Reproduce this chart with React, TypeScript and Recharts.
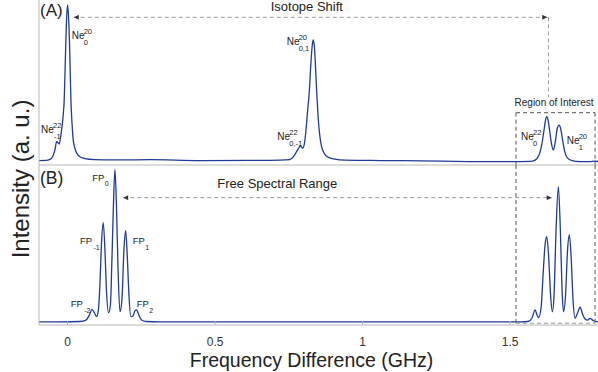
import React from 'react';
import { LineChart, Line, XAxis, YAxis, ReferenceLine } from 'recharts';

// panel (A): isotope spectrum, frequency in GHz
const FREQ_A = [
  -0.097, -0.0736, -0.060, -0.0498, -0.0431, -0.0373, -0.0329, -0.0285, -0.0227, -0.0149,
  -0.0115, -0.0068, -0.0034, 0, 0.0034, 0.0071, 0.0112, 0.0153, 0.019, 0.0264,
  0.0349, 0.0417, 0.0587, 0.0926, 0.15, 0.28, 0.45, 0.62, 0.72, 0.7538,
  0.7674, 0.7776, 0.7894, 0.7972, 0.803, 0.8081, 0.8132, 0.8193, 0.825, 0.8294,
  0.8328, 0.8369, 0.8406, 0.8444, 0.8488, 0.8538, 0.8606, 0.8691, 0.8826, 0.9064,
  0.9403, 1.06, 1.2, 1.36, 1.5, 1.5676, 1.5846, 1.5981, 1.6083, 1.6151,
  1.6202, 1.6243, 1.6287, 1.6338, 1.6399, 1.6467, 1.6535, 1.6602, 1.666, 1.6718,
  1.6779, 1.6846, 1.6931, 1.7101, 1.7372, 1.7711, 1.7847, 1.798,
];
const INTENSITY_A = [
  0.027, 0.028, 0.034, 0.055, 0.091, 0.141, 0.136, 0.127, 0.182, 0.303,
  0.394, 0.697, 0.891, 0.97, 0.891, 0.697, 0.394, 0.242, 0.152, 0.091,
  0.061, 0.05, 0.039, 0.033, 0.031, 0.032, 0.027, 0.028, 0.03, 0.033,
  0.055, 0.085, 0.115, 0.103, 0.133, 0.212, 0.321, 0.444, 0.624, 0.727,
  0.758, 0.709, 0.588, 0.442, 0.303, 0.194, 0.115, 0.073, 0.048, 0.036,
  0.03, 0.027, 0.025, 0.021, 0.02, 0.022, 0.03, 0.061, 0.133, 0.212,
  0.273, 0.293, 0.273, 0.212, 0.133, 0.091, 0.145, 0.224, 0.242, 0.218,
  0.152, 0.085, 0.045, 0.027, 0.021, 0.02, 0.024, 0.021,
];

// panel (B): Fabry-Perot reference
const FREQ_B = [
  -0.097, -0.0261, 0.0417, 0.0621, 0.0739, 0.0824, 0.0909, 0.0983, 0.1044, 0.1095,
  0.1146, 0.1207, 0.1265, 0.1316, 0.139, 0.1451, 0.1502, 0.1553, 0.1604, 0.1655,
  0.1706, 0.1774, 0.1841, 0.1909, 0.1967, 0.2021, 0.2079, 0.2146, 0.2214, 0.2282,
  0.234, 0.2401, 0.2509, 0.2655, 0.313, 0.6182, 0.9573, 1.2964, 1.5338, 1.561,
  1.5745, 1.5846, 1.5914, 1.5965, 1.605, 1.6118, 1.6185, 1.6243, 1.6304, 1.6372,
  1.6433, 1.649, 1.6558, 1.6636, 1.6704, 1.6762, 1.6812, 1.688, 1.6948, 1.7009,
  1.7066, 1.7134, 1.7202, 1.7287, 1.7372, 1.7456, 1.7541, 1.7626, 1.7711, 1.7813,
  1.798,
];
const INTENSITY_B = [
  0.019, 0.019, 0.022, 0.031, 0.063, 0.098, 0.075, 0.053, 0.094, 0.25,
  0.5, 0.639, 0.469, 0.219, 0.077, 0.125, 0.406, 0.75, 0.973, 0.75,
  0.375, 0.083, 0.156, 0.469, 0.589, 0.438, 0.188, 0.052, 0.056, 0.088,
  0.094, 0.069, 0.031, 0.022, 0.019, 0.019, 0.019, 0.019, 0.019, 0.022,
  0.044, 0.094, 0.063, 0.046, 0.106, 0.313, 0.5, 0.552, 0.438, 0.188,
  0.083, 0.188, 0.594, 0.864, 0.594, 0.219, 0.083, 0.188, 0.469, 0.563,
  0.438, 0.156, 0.042, 0.075, 0.111, 0.069, 0.038, 0.031, 0.041, 0.028,
  0.019,
];

const X_TICKS = [0, 0.5, 1, 1.5];
const X_DOMAIN = [-0.097, 1.798];

// annotation anchors in data units
const ISOTOPE_SHIFT = { from: 0.021, to: 1.626, drop: 1.63, y: 0.895, dropEnd: 0.412 };
const FSR = { from: 0.1885, to: 1.641, y: 0.796 };
const ROI = { x1: 1.52, x2: 1.788, topA: 0.317, bottomB: 0.011 };

const rowsA = FREQ_A.map((f, i) => ({ f, v: INTENSITY_A[i] }));
const rowsB = FREQ_B.map((f, i) => ({ f, v: INTENSITY_B[i] }));

const LINE = '#1f3a98';
const AXIS = '#b8b8b8';
const ARROW = '#9a9a9a';
const BOX = '#555';

const dashed = (color: string, start = false, end = false) => (p: any) => (
  <line
    x1={p.x1}
    y1={p.y1}
    x2={p.x2}
    y2={p.y2}
    stroke={color}
    strokeWidth={1}
    strokeDasharray="4 3"
    markerStart={start ? 'url(#arrowHead)' : undefined}
    markerEnd={end ? 'url(#arrowHead)' : undefined}
  />
);

const Iso = ({ x, y, main, sup, sub, size = 10, off = 12, small = 7.5 }: any) => (
  <g>
    <text x={x} y={y} fontSize={size}>{main}</text>
    {sup && <text x={x + off} y={y - 5.5} fontSize={small}>{sup}</text>}
    {sub && <text x={x + off + (sub.startsWith('-') ? 1 : 0)} y={y + 5.5} fontSize={small}>{sub}</text>}
  </g>
);

const App = () => {
  return (
    <div style={{ position: 'absolute', left: 0, top: 0, width: 598, height: 372, background: '#fff', fontFamily: '"Liberation Sans", Arial, sans-serif' }}>
      <div style={{ position: 'absolute', left: 0, top: 0 }}>
        <LineChart width={598} height={166} data={rowsA} margin={{ top: 0, right: 0, bottom: 0, left: 38 }}>
          <XAxis dataKey="f" type="number" domain={X_DOMAIN} allowDataOverflow ticks={X_TICKS} tick={false} tickLine={false} height={1} axisLine={{ stroke: AXIS }} />
          <YAxis type="number" domain={[0, 1]} allowDataOverflow tick={false} tickLine={false} width={1} axisLine={{ stroke: AXIS }} />
          <Line dataKey="v" type="monotone" stroke={LINE} strokeWidth={1.3} dot={false} isAnimationActive={false} />
          <ReferenceLine segment={[{ x: ISOTOPE_SHIFT.from, y: ISOTOPE_SHIFT.y }, { x: ISOTOPE_SHIFT.to, y: ISOTOPE_SHIFT.y }]} shape={dashed(ARROW, true, true)} />
          <ReferenceLine segment={[{ x: ISOTOPE_SHIFT.to, y: ISOTOPE_SHIFT.y }, { x: ISOTOPE_SHIFT.drop, y: ISOTOPE_SHIFT.y }]} shape={dashed(ARROW)} />
          <ReferenceLine segment={[{ x: ISOTOPE_SHIFT.drop, y: ISOTOPE_SHIFT.y }, { x: ISOTOPE_SHIFT.drop, y: ISOTOPE_SHIFT.dropEnd }]} shape={dashed(ARROW)} />
          <ReferenceLine segment={[{ x: ROI.x1, y: ROI.topA }, { x: ROI.x2, y: ROI.topA }]} shape={dashed(BOX)} />
          <ReferenceLine segment={[{ x: ROI.x1, y: ROI.topA }, { x: ROI.x1, y: 0 }]} shape={dashed(BOX)} />
          <ReferenceLine segment={[{ x: ROI.x2, y: ROI.topA }, { x: ROI.x2, y: 0 }]} shape={dashed(BOX)} />
        </LineChart>
      </div>
      <div style={{ position: 'absolute', left: 0, top: 165 }}>
        <LineChart width={598} height={207} data={rowsB} margin={{ top: 0, right: 0, bottom: 0, left: 38 }}>
          <XAxis
            dataKey="f"
            type="number"
            domain={X_DOMAIN}
            allowDataOverflow
            ticks={X_TICKS}
            interval={0}
            height={47}
            tickSize={-4}
            tickMargin={16}
            tick={{ fontSize: 12, fill: '#333' }}
            tickLine={{ stroke: AXIS }}
            axisLine={{ stroke: AXIS }}
          />
          <YAxis type="number" domain={[0, 1]} allowDataOverflow tick={false} tickLine={false} width={1} axisLine={{ stroke: AXIS }} />
          <Line dataKey="v" type="monotone" stroke={LINE} strokeWidth={1.3} dot={false} isAnimationActive={false} />
          <ReferenceLine segment={[{ x: FSR.from, y: FSR.y }, { x: FSR.to, y: FSR.y }]} shape={dashed(ARROW, true, true)} />
          <ReferenceLine segment={[{ x: ROI.x1, y: 1 }, { x: ROI.x1, y: ROI.bottomB }]} shape={dashed(BOX)} />
          <ReferenceLine segment={[{ x: ROI.x2, y: 1 }, { x: ROI.x2, y: ROI.bottomB }]} shape={dashed(BOX)} />
          <ReferenceLine segment={[{ x: ROI.x1, y: ROI.bottomB }, { x: ROI.x2, y: ROI.bottomB }]} shape={dashed('#999')} />
        </LineChart>
      </div>
      <svg width={598} height={372} style={{ position: 'absolute', left: 0, top: 0, pointerEvents: 'none' }} fill="#222">
        <defs>
          <marker id="arrowHead" viewBox="0 0 10 10" refX="10" refY="5" markerWidth="6" markerHeight="5" markerUnits="userSpaceOnUse" orient="auto-start-reverse">
            <path d="M0,0 L10,5 L0,10 z" fill="#333" />
          </marker>
        </defs>
        <text x={40} y={15.5} fontSize={17}>(A)</text>
        <text x={40} y={184} fontSize={17.5}>(B)</text>
        <text x={270.7} y={10.5} fontSize={13}>Isotope Shift</text>
        <text x={217.3} y={188.3} fontSize={13}>Free Spectral Range</text>
        <text x={554} y={105.7} fontSize={10} textAnchor="middle">Region of Interest</text>

        <Iso x={71.7} y={39.3} main="Ne" sup="20" sub="0" />
        <Iso x={41} y={133.3} main="Ne" sup="22" sub="-1" />
        <Iso x={286.7} y={45} main="Ne" sup="20" sub="0,1" />
        <Iso x={277.3} y={140} main="Ne" sup="22" sub="0,-1" />
        <Iso x={521} y={140} main="Ne" sup="22" sub="0" />
        <Iso x={566.7} y={144.3} main="Ne" sup="20" sub="1" />

        <Iso x={92.3} y={180.7} main="FP" sub="0" size={9.5} off={12.5} small={7} />
        <Iso x={80} y={244} main="FP" sub="-1" size={9.5} off={12.5} small={7} />
        <Iso x={132.7} y={244} main="FP" sub="1" size={9.5} off={12.5} small={7} />
        <Iso x={70.7} y={307.3} main="FP" sub="-2" size={9.5} off={12.5} small={7} />
        <Iso x={136.7} y={307.3} main="FP" sub="2" size={9.5} off={12.5} small={7} />

        <text x={311.5} y={366.7} fontSize={19.5} textAnchor="middle">Frequency Difference (GHz)</text>
        <text transform="translate(29,179) rotate(-90)" fontSize={24} textAnchor="middle">Intensity (a. u.)</text>
      </svg>
    </div>
  );
};

export default App;
